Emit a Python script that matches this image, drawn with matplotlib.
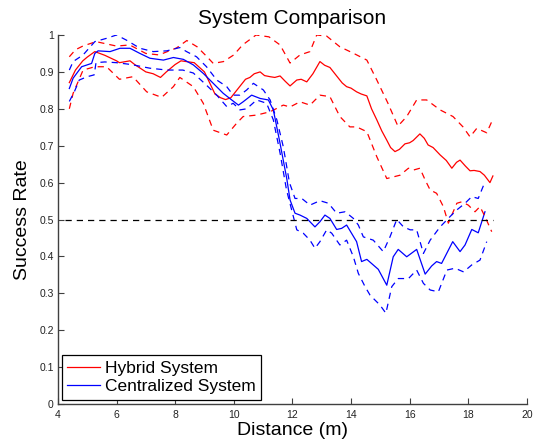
import matplotlib
matplotlib.use("Agg")
import matplotlib.pyplot as plt

# ---------------- data ----------------
hyb_x = [4.39, 4.6, 4.85, 5.0, 5.26, 5.6, 6.0, 6.1, 6.46, 6.62, 7.0, 7.25, 7.5, 7.7, 8.0, 8.2,
         8.65, 9.0, 9.18, 9.36, 9.55, 9.72, 9.9, 10.05, 10.2, 10.4, 10.55, 10.7, 10.9, 11.05,
         11.24, 11.4, 11.58, 11.75, 11.92, 12.15, 12.3, 12.49, 12.7, 12.94, 13.1, 13.28, 13.5,
         13.7, 13.85, 14.0, 14.19, 14.35, 14.54, 14.7, 14.88, 15.05, 15.22, 15.35, 15.5, 15.65,
         15.84, 16.0, 16.12, 16.35, 16.5, 16.63, 16.8, 17.04, 17.25, 17.44, 17.6, 17.72, 17.9,
         18.06, 18.2, 18.4, 18.55, 18.74, 18.84]
hyb_mean = [0.871, 0.905, 0.93, 0.94, 0.955, 0.945, 0.93, 0.925, 0.93, 0.92, 0.90, 0.895, 0.885,
            0.90, 0.92, 0.93, 0.925, 0.90, 0.87, 0.84, 0.83, 0.825, 0.83, 0.845, 0.86, 0.88, 0.885,
            0.895, 0.90, 0.89, 0.887, 0.885, 0.889, 0.875, 0.862, 0.878, 0.88, 0.873, 0.895, 0.928,
            0.918, 0.912, 0.89, 0.87, 0.86, 0.856, 0.846, 0.84, 0.835, 0.80, 0.77, 0.74, 0.715,
            0.695, 0.684, 0.69, 0.705, 0.708, 0.714, 0.732, 0.72, 0.702, 0.695, 0.675, 0.66, 0.639,
            0.655, 0.661, 0.645, 0.632, 0.633, 0.63, 0.62, 0.60, 0.618]

hyb_up_x = [4.39, 4.6, 4.85, 5.3, 6.0, 6.45, 7.0, 7.45, 8.05, 8.4, 8.75, 9.1, 9.3, 9.65, 10.0,
            10.3, 10.76, 11.2, 11.58, 11.92, 12.26, 12.6, 12.83, 13.17, 13.62, 14.07, 14.54,
            14.88, 15.26, 15.6, 15.9, 16.24, 16.58, 17.04, 17.48, 17.82, 18.06, 18.29, 18.63, 18.8]
hyb_up = [0.941, 0.96, 0.97, 0.982, 0.97, 0.973, 0.95, 0.946, 0.965, 0.985, 0.968, 0.94, 0.923,
          0.928, 0.946, 0.973, 1.0, 0.995, 0.973, 0.924, 0.946, 0.955, 1.0, 0.997, 0.968, 0.951,
          0.932, 0.878, 0.815, 0.753, 0.779, 0.824, 0.824, 0.797, 0.779, 0.751, 0.724, 0.747,
          0.735, 0.765]

hyb_lo_x = [4.39, 4.52, 4.86, 5.26, 5.66, 6.1, 6.56, 7.03, 7.54, 7.94, 8.16, 8.62, 8.96, 9.3,
            9.76, 10.1, 10.32, 10.78, 11.24, 11.69, 11.92, 12.26, 12.6, 12.94, 13.28, 13.62,
            13.96, 14.19, 14.54, 14.88, 15.22, 15.67, 15.96, 16.13, 16.35, 16.53, 16.7, 16.92,
            17.15, 17.32, 17.61, 17.78, 18.0, 18.23, 18.4, 18.57, 18.8]
hyb_lo = [0.80, 0.842, 0.905, 0.914, 0.914, 0.88, 0.887, 0.846, 0.831, 0.86, 0.885, 0.86, 0.815,
          0.742, 0.729, 0.761, 0.779, 0.783, 0.792, 0.81, 0.805, 0.819, 0.81, 0.837, 0.833, 0.779,
          0.751, 0.751, 0.738, 0.67, 0.611, 0.62, 0.639, 0.634, 0.639, 0.607, 0.58, 0.571, 0.535,
          0.49, 0.544, 0.548, 0.539, 0.521, 0.535, 0.508, 0.467]

cen_x = [4.39, 4.52, 4.81, 5.15, 5.26, 5.37, 5.78, 6.12, 6.46, 6.8, 7.14, 7.6, 7.94, 8.28, 8.62,
         8.96, 9.3, 9.64, 9.93, 10.16, 10.32, 10.61, 10.9, 11.18, 11.35, 11.58, 11.81, 11.92,
         12.09, 12.26, 12.49, 12.77, 12.94, 13.11, 13.28, 13.51, 13.68, 13.85, 14.19, 14.36,
         14.54, 14.93, 15.22, 15.44, 15.61, 15.9, 16.24, 16.53, 16.75, 16.92, 17.09, 17.47,
         17.72, 17.89, 18.12, 18.34, 18.57]
cen_mean = [0.855, 0.883, 0.914, 0.923, 0.95, 0.957, 0.955, 0.964, 0.964, 0.95, 0.937, 0.932,
            0.939, 0.934, 0.919, 0.896, 0.869, 0.842, 0.824, 0.81, 0.819, 0.837, 0.828, 0.824,
            0.797, 0.706, 0.61, 0.553, 0.517, 0.512, 0.503, 0.48, 0.494, 0.512, 0.503, 0.473,
            0.476, 0.485, 0.44, 0.386, 0.392, 0.365, 0.322, 0.399, 0.419, 0.399, 0.419, 0.352,
            0.374, 0.386, 0.381, 0.44, 0.413, 0.431, 0.473, 0.464, 0.521]

cen_up_x = [4.39, 4.52, 4.86, 5.26, 5.66, 6.0, 6.34, 6.8, 7.25, 7.71, 8.16, 8.39, 8.73, 9.07,
            9.42, 9.76, 9.98, 10.21, 10.44, 10.67, 11.01, 11.24, 11.47, 11.69, 11.9, 12.09,
            12.32, 12.6, 12.94, 13.23, 13.51, 13.8, 14.08, 14.25, 14.42, 14.76, 15.1, 15.33,
            15.56, 15.79, 16.02, 16.24, 16.47, 16.7, 17.04, 17.38, 17.61, 17.89, 18.12, 18.34,
            18.57]
cen_up = [0.905, 0.928, 0.946, 0.982, 0.991, 1.0, 0.986, 0.964, 0.955, 0.957, 0.966, 0.955,
          0.941, 0.914, 0.878, 0.86, 0.837, 0.837, 0.851, 0.869, 0.851, 0.824, 0.77, 0.697, 0.6,
          0.557, 0.557, 0.539, 0.551, 0.544, 0.517, 0.521, 0.503, 0.485, 0.453, 0.444, 0.413,
          0.453, 0.50, 0.48, 0.472, 0.472, 0.408, 0.444, 0.48, 0.508, 0.526, 0.544, 0.562, 0.557,
          0.602]

cen_lo_x = [4.39, 4.56, 4.73, 5.0, 5.24, 5.3, 5.6, 6.0, 6.5, 7.14, 7.72, 8.26, 8.62, 9.07, 9.42,
            9.76, 9.98, 10.21, 10.44, 10.78, 11.12, 11.35, 11.58, 11.8, 12.15, 12.37, 12.6, 12.77,
            12.94, 13.17, 13.34, 13.62, 13.85, 14.08, 14.25, 14.48, 14.65, 14.99, 15.19, 15.39,
            15.61, 15.96, 16.24, 16.47, 16.7, 16.98, 17.27, 17.55, 17.84, 18.12, 18.4, 18.63]
cen_lo = [0.82, 0.846, 0.878, 0.887, 0.892, 0.925, 0.927, 0.925, 0.92, 0.91, 0.905, 0.905, 0.897,
          0.864, 0.837, 0.806, 0.815, 0.797, 0.80, 0.824, 0.815, 0.77, 0.68, 0.58, 0.472, 0.463,
          0.444, 0.422, 0.44, 0.472, 0.463, 0.431, 0.444, 0.399, 0.354, 0.318, 0.295, 0.268,
          0.246, 0.318, 0.34, 0.34, 0.363, 0.327, 0.309, 0.304, 0.363, 0.368, 0.358, 0.377, 0.39,
          0.44]

threshold = 0.5
threshold_x = [4.25, 18.85]

x_ticks = [4, 6, 8, 10, 12, 14, 16, 18, 20]
y_ticks = [0, 0.1, 0.2, 0.3, 0.4, 0.5, 0.6, 0.7, 0.8, 0.9, 1]
y_tick_labels = ["0", "0.1", "0.2", "0.3", "0.4", "0.5", "0.6", "0.7", "0.8", "0.9", "1"]

# ---------------- plot ----------------
plt.rcParams['font.family'] = ['Liberation Sans', 'DejaVu Sans']

fig = plt.figure(figsize=(5.36, 4.43), dpi=100)
ax = fig.add_axes([0.108, 0.088, 0.875, 0.833])

dash = (0, (5, 4))
red = '#ff0000'
blue = '#0000ff'
lw = 0.9

ax.plot(hyb_x, hyb_mean, color=red, lw=lw, label='Hybrid System')
ax.plot(cen_x, cen_mean, color=blue, lw=lw, label='Centralized System')
ax.plot(hyb_up_x, hyb_up, color=red, lw=lw, ls=dash)
ax.plot(hyb_lo_x, hyb_lo, color=red, lw=lw, ls=dash)
ax.plot(cen_up_x, cen_up, color=blue, lw=lw, ls=dash)
ax.plot(cen_lo_x, cen_lo, color=blue, lw=lw, ls=dash)
ax.plot(threshold_x, [threshold, threshold], color='black', lw=lw, ls=dash)

ax.set_xlim(4, 20)
ax.set_ylim(0, 1)
ax.set_xticks(x_ticks)
ax.set_xticklabels([str(t) for t in x_ticks])
ax.set_yticks(y_ticks)
ax.set_yticklabels(y_tick_labels)

for s in ['top', 'right']:
    ax.spines[s].set_visible(False)
for s in ['left', 'bottom']:
    ax.spines[s].set_color('#404040')
    ax.spines[s].set_linewidth(1.0)
ax.tick_params(direction='in', length=4, width=0.8, colors='#404040', labelsize=7.5,
               labelcolor='#222222')
ax.tick_params(axis='x', pad=4)
ax.tick_params(axis='y', pad=3)

ax.set_title('System Comparison', fontsize=15, pad=8)
ax.set_xlabel('Distance (m)', fontsize=14, labelpad=2)
ax.set_ylabel('Success Rate', fontsize=14, labelpad=6)

leg = ax.legend(loc='lower left', fontsize=12.5, frameon=True, fancybox=False,
                edgecolor='black', framealpha=1, borderpad=0.3, handlelength=1.9,
                handletextpad=0.25, labelspacing=0.2, borderaxespad=0.25)
leg.get_frame().set_linewidth(0.9)

fig.savefig('out.png', dpi=100)
